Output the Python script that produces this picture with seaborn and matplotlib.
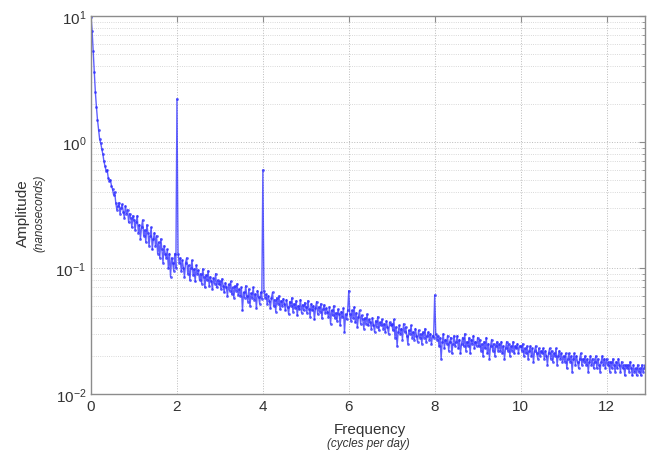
import numpy as np
import pandas as pd
import seaborn as sns
import matplotlib.pyplot as plt

# amplitude (ns), one value every 0.025 cycles/day from 0 to 12.9
freq_step = 0.025
amplitude = [
    9.8, 7.6, 5.3, 3.6, 2.5, 1.9, 1.5, 1.25, 1.05, 0.98, 0.88, 0.80, 0.70, 0.64, 0.59, 0.60, 0.52, 0.49, 0.50, 0.45,
    0.42, 0.38, 0.40, 0.33, 0.29, 0.31, 0.33, 0.27, 0.30, 0.32, 0.28, 0.25, 0.31, 0.27, 0.29, 0.23, 0.27, 0.25, 0.21, 0.26,
    0.24, 0.20, 0.23, 0.26, 0.19, 0.22, 0.17, 0.21, 0.24, 0.18, 0.20, 0.16, 0.22, 0.19, 0.15, 0.18, 0.21, 0.14, 0.17, 0.19,
    0.15, 0.18, 0.13, 0.16, 0.12, 0.17, 0.14, 0.11, 0.15, 0.13, 0.12, 0.14, 0.10, 0.13, 0.085, 0.12, 0.11, 0.095, 0.13, 0.10,
    2.2, 0.13, 0.11, 0.12, 0.095, 0.115, 0.10, 0.085, 0.11, 0.12, 0.09, 0.105, 0.08, 0.10, 0.115, 0.088, 0.098, 0.078, 0.105, 0.09,
    0.096, 0.08, 0.09, 0.075, 0.098, 0.085, 0.07, 0.088, 0.08, 0.095, 0.072, 0.085, 0.078, 0.068, 0.083, 0.075, 0.09, 0.07, 0.08, 0.074,
    0.078, 0.068, 0.082, 0.072, 0.064, 0.076, 0.07, 0.06, 0.074, 0.066, 0.078, 0.062, 0.07, 0.058, 0.072, 0.066, 0.075, 0.061, 0.068, 0.06,
    0.07, 0.046, 0.064, 0.058, 0.072, 0.06, 0.054, 0.068, 0.05, 0.063, 0.058, 0.07, 0.056, 0.062, 0.048, 0.066, 0.059, 0.052, 0.064, 0.057,
    0.6, 0.066, 0.058, 0.062, 0.052, 0.06, 0.055, 0.048, 0.058, 0.064, 0.05, 0.056, 0.045, 0.058, 0.052, 0.06, 0.047, 0.055, 0.05, 0.057,
    0.052, 0.046, 0.056, 0.049, 0.043, 0.054, 0.05, 0.058, 0.045, 0.052, 0.048, 0.055, 0.042, 0.05, 0.047, 0.056, 0.044, 0.051, 0.046, 0.053,
    0.049, 0.044, 0.055, 0.047, 0.041, 0.052, 0.046, 0.05, 0.039, 0.048, 0.054, 0.043, 0.049, 0.045, 0.052, 0.04, 0.047, 0.051, 0.044, 0.048,
    0.045, 0.041, 0.049, 0.036, 0.046, 0.042, 0.05, 0.04, 0.044, 0.038, 0.047, 0.043, 0.035, 0.045, 0.041, 0.048, 0.031, 0.043, 0.039, 0.046,
    0.066, 0.043, 0.038, 0.046, 0.04, 0.049, 0.037, 0.044, 0.034, 0.041, 0.046, 0.036, 0.042, 0.039, 0.033, 0.04, 0.036, 0.043, 0.035, 0.039,
    0.037, 0.033, 0.04, 0.035, 0.031, 0.038, 0.034, 0.041, 0.032, 0.037, 0.035, 0.039, 0.033, 0.036, 0.031, 0.038, 0.034, 0.03, 0.037, 0.035,
    0.036, 0.032, 0.039, 0.028, 0.034, 0.024, 0.031, 0.035, 0.03, 0.033, 0.027, 0.036, 0.031, 0.034, 0.029, 0.025, 0.032, 0.03, 0.035, 0.028,
    0.031, 0.027, 0.033, 0.029, 0.026, 0.032, 0.028, 0.03, 0.025, 0.031, 0.028, 0.033, 0.026, 0.029, 0.031, 0.027, 0.03, 0.025, 0.029, 0.028,
    0.061, 0.03, 0.027, 0.029, 0.024, 0.028, 0.019, 0.026, 0.03, 0.023, 0.027, 0.025, 0.029, 0.022, 0.026, 0.028, 0.021, 0.025, 0.029, 0.024,
    0.026, 0.029, 0.023, 0.027, 0.021, 0.025, 0.028, 0.024, 0.03, 0.022, 0.026, 0.024, 0.028, 0.021, 0.027, 0.025, 0.029, 0.023, 0.026, 0.024,
    0.028, 0.024, 0.027, 0.022, 0.025, 0.02, 0.026, 0.023, 0.028, 0.021, 0.025, 0.019, 0.024, 0.027, 0.022, 0.025, 0.02, 0.024, 0.026, 0.022,
    0.025, 0.022, 0.026, 0.021, 0.024, 0.019, 0.023, 0.026, 0.022, 0.025, 0.02, 0.024, 0.022, 0.026, 0.021, 0.024, 0.023, 0.025, 0.021, 0.024,
    0.024, 0.022, 0.025, 0.02, 0.023, 0.021, 0.024, 0.019, 0.022, 0.024, 0.02, 0.023, 0.018, 0.022, 0.024, 0.021, 0.019, 0.023, 0.02, 0.022,
    0.021, 0.023, 0.019, 0.022, 0.02, 0.017, 0.021, 0.023, 0.019, 0.022, 0.018, 0.021, 0.02, 0.023, 0.017, 0.02, 0.022, 0.019, 0.021, 0.018,
    0.02, 0.018, 0.021, 0.016, 0.019, 0.021, 0.018, 0.02, 0.015, 0.019, 0.021, 0.017, 0.02, 0.018, 0.016, 0.019, 0.021, 0.017, 0.019, 0.018,
    0.02, 0.017, 0.019, 0.015, 0.018, 0.02, 0.017, 0.019, 0.016, 0.018, 0.02, 0.016, 0.019, 0.017, 0.015, 0.018, 0.02, 0.017, 0.019, 0.016,
    0.019, 0.017, 0.018, 0.015, 0.018, 0.016, 0.019, 0.017, 0.015, 0.018, 0.016, 0.019, 0.017, 0.015, 0.018, 0.016, 0.017, 0.014, 0.017, 0.016,
    0.017, 0.015, 0.018, 0.016, 0.014, 0.017, 0.015, 0.016, 0.014, 0.017, 0.015, 0.016, 0.014, 0.017, 0.015, 0.016, 0.017,
]
x_ticks = [0, 2, 4, 6, 8, 10, 12]

df = pd.DataFrame({
    "freq": np.round(np.arange(len(amplitude)) * freq_step, 3),
    "amp": amplitude,
})

sns.set_style("white")
plt.rcParams["font.family"] = ["Liberation Sans", "DejaVu Sans"]

fig = plt.figure(figsize=(6.55, 4.56), dpi=100)
ax = fig.add_axes([0.139, 0.134, 0.846, 0.829])

sns.lineplot(data=df, x="freq", y="amp", ax=ax, color="#2a2aff",
             linewidth=1.0, marker=".", markersize=4, markeredgewidth=0,
             alpha=0.75, sort=False, estimator=None)

ax.set_yscale("log")
ax.set_ylim(0.01, 10)
ax.set_xlim(0, 12.9)
ax.set_xticks(x_ticks)

# matlab-ish dotted grid
ax.grid(True, which="major", axis="both", color="#bbbbbb", linestyle=":", linewidth=0.7)
ax.grid(True, which="minor", axis="y", color="#cccccc", linestyle=":", linewidth=0.6)

for s in ax.spines.values():
    s.set_color("#8c8c8c")
    s.set_linewidth(1.0)

ax.tick_params(axis="both", which="both", direction="in", colors="#8c8c8c",
               labelcolor="#333333", labelsize=11, top=True, right=True)
ax.tick_params(which="major", length=4)
ax.tick_params(which="minor", length=2)

ax.set_xlabel("")
ax.set_ylabel("")
fig.text(0.565, 0.057, "Frequency", ha="center", va="center", fontsize=11, color="#333333")
fig.text(0.562, 0.026, "(cycles per day)", ha="center", va="center", fontsize=8.5,
         style="italic", color="#333333")
fig.text(0.035, 0.533, "Amplitude", ha="center", va="center", rotation=90,
         fontsize=11, color="#333333")
fig.text(0.060, 0.533, "(nanoseconds)", ha="center", va="center", rotation=90,
         fontsize=8.5, style="italic", color="#333333")

fig.savefig("out.png", dpi=100)
